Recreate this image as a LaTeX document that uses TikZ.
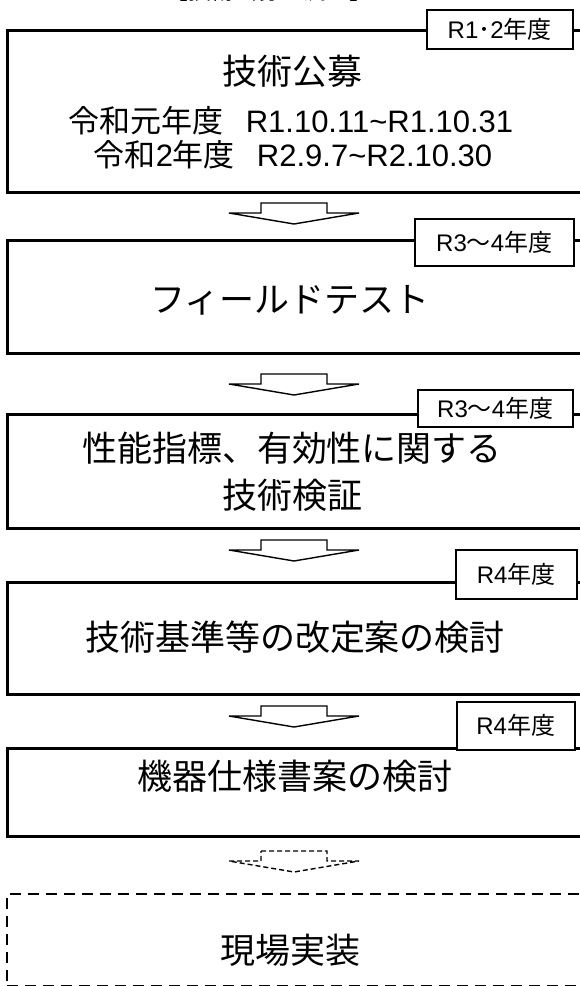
\documentclass[tikz,border=0pt]{standalone}
\usepackage{fontspec}
\setmainfont{Noto Sans CJK JP}
\newfontfamily\la{Liberation Sans}
\begin{document}
\begin{tikzpicture}[x=1pt,y=-1pt,
  box/.style={draw, line width=2.5pt, anchor=north west, inner sep=0pt, minimum width=600pt},
  dbox/.style={box, dashed, dash pattern=on 11pt off 7pt},
  tagbox/.style={draw, fill=white, line width=1.5pt, anchor=north west, inner sep=0pt, font=\fontsize{24}{28}\selectfont},
  bigtext/.style={font=\fontsize{35}{47}\selectfont, align=center, inner sep=0pt},
  subtext/.style={font=\fontsize{31}{34}\selectfont, align=center, inner sep=0pt},
  arrowsty/.style={draw, line width=1.4pt, fill=white},
  blockarrow/.pic={\path[pic actions] (-33,0) -- (33,0) -- (33,10) -- (65,10) -- (0,21) -- (-65,10) -- (-33,10) -- cycle;}
]
\useasboundingbox (0,0) rectangle (579,986);

% title, cut off at the top edge as in the reference
\node[anchor=base, inner sep=0pt, font=\fontsize{23}{23}\selectfont] (title) at (269,-0.8) {【技術公募の流れ】};

% boxes
\node[box, minimum height=162pt] (b1) at (6,29) {};
\node[box, minimum height=113pt] (b2) at (6,239) {};
\node[box, minimum height=114pt] (b3) at (6,413) {};
\node[box, minimum height=112pt] (b4) at (6,581) {};
\node[box, minimum height=88pt] (b5) at (6,747) {};
\node[dbox, line width=2.2pt, minimum height=92pt] (b6) at (6,893) {};

% tags
\node[tagbox, minimum width=146pt, minimum height=39pt] (g1) at (426,9) {{\la R1}･{\la 2}年度};
\node[tagbox, minimum width=159pt, minimum height=47pt] (g2) at (414,218) {{\la R3}～{\la 4}年度};
\node[tagbox, minimum width=155pt, minimum height=37pt] (g3) at (417,389) {{\la R3}～{\la 4}年度};
\node[tagbox, minimum width=121pt, minimum height=49pt] (g4) at (455,549) {{\la R4}年度};
\node[tagbox, minimum width=118pt, minimum height=48pt] (g5) at (456,701) {{\la R4}年度};

% texts
\node[bigtext] (t1) at (292,71) {技術公募};
\node[subtext] (t1a) at (291,121) {令和元年度\hspace{22pt}{\la R1.10.11\textasciitilde R1.10.31}};
\node[subtext] (t1b) at (293,155) {令和{\la 2}年度\hspace{22pt}{\la R2.9.7\textasciitilde R2.10.30}};
\node[bigtext] (t2) at (290,300) {フィールドテスト};
\node[bigtext] (t3) at (292,472) {性能指標、有効性に関する\\技術検証};
\node[bigtext] (t4) at (295,637) {技術基準等の改定案の検討};
\node[bigtext] (t5) at (295,776) {機器仕様書案の検討};
\node[bigtext] (t6) at (290,950) {現場実装};

% block arrows
\pic[arrowsty] (ar1) at (294,203) {blockarrow};
\pic[arrowsty] (ar2) at (294,374) {blockarrow};
\pic[arrowsty] (ar3) at (294,540) {blockarrow};
\pic[arrowsty] (ar4) at (294,706) {blockarrow};
\pic[arrowsty, dashed, dash pattern=on 5pt off 3pt] (ar5) at (294,851) {blockarrow};
\end{tikzpicture}
\end{document}
